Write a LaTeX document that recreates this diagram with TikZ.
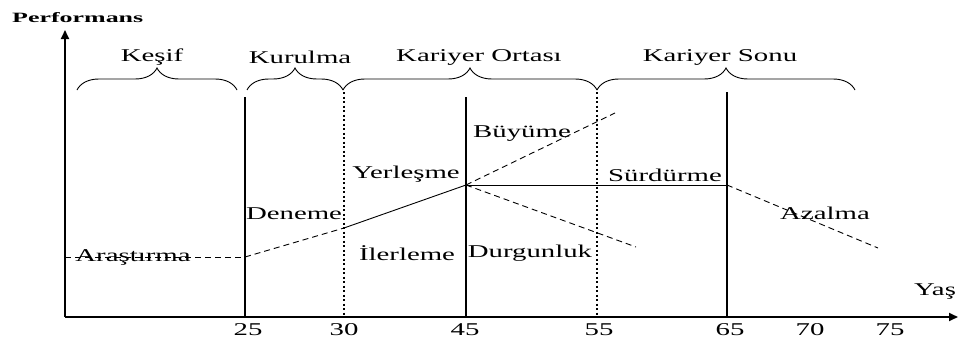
\documentclass[tikz,border=0pt]{standalone}
\usepackage{graphicx}
\usepackage{fontspec}
\setmainfont{Liberation Serif}[FakeStretch=1.6]
\newfontfamily\perffont{Liberation Serif}
\usetikzlibrary{decorations.pathreplacing,arrows.meta}
\begin{document}
\begin{tikzpicture}[x=1pt,y=-1pt,
  lbl/.style={inner sep=0pt,font=\fontsize{18}{20}\selectfont},
  axis/.style={line width=1.8pt,-{Triangle[length=9pt,width=8pt]}},
  solidv/.style={line width=1.8pt},
  dottedv/.style={line width=1.8pt,dash pattern=on 2pt off 2.5pt},
  dashln/.style={line width=0.9pt,dash pattern=on 6pt off 4pt},
  thinln/.style={line width=0.9pt},
  bracestyle/.style={line width=0.9pt,decorate,decoration={brace,amplitude=22pt,aspect=0.5}}]
\useasboundingbox (0,0) rectangle (959,340);
% axes
\coordinate (O) at (65,317);
\coordinate (Ytop) at (65,30);
\coordinate (Xend) at (958,317);
\draw[axis] (O) -- (Ytop);
\draw[axis] (O) -- (Xend);
\node[inner sep=0pt,anchor=west,font=\perffont\bfseries] (perf) at (12,18) {\resizebox{131pt}{10pt}{Performans}};
\node[lbl] (yas) at (935,292) {Yaş};
% vertical lines
\coordinate (v25t) at (245,97);  \coordinate (v25b) at (245,317);
\coordinate (v30t) at (344,92);  \coordinate (v30b) at (344,317);
\coordinate (v45t) at (466,97);  \coordinate (v45b) at (466,317);
\coordinate (v55t) at (597,92);  \coordinate (v55b) at (597,317);
\coordinate (v65t) at (727,92);  \coordinate (v65b) at (727,317);
\draw[solidv] (v25t) -- (v25b);
\draw[dottedv] (v30t) -- (v30b);
\draw[solidv] (v45t) -- (v45b);
\draw[dottedv] (v55t) -- (v55b);
\draw[solidv] (v65t) -- (v65b);
% tick labels
\node[lbl] (t25) at (248,330) {25};
\node[lbl] (t30) at (344,330) {30};
\node[lbl] (t45) at (465,330) {45};
\node[lbl] (t55) at (599,330) {55};
\node[lbl] (t65) at (730,330) {65};
\node[lbl] (t70) at (810,330) {70};
\node[lbl] (t75) at (890,330) {75};
% braces
\coordinate (b1a) at (77,90);  \coordinate (b1b) at (237,90);
\coordinate (b2a) at (247,90); \coordinate (b2b) at (343,90);
\coordinate (b3a) at (343,90); \coordinate (b3b) at (597,90);
\coordinate (b4a) at (597,90); \coordinate (b4b) at (855,90);
\draw[bracestyle] (b1a) -- (b1b);
\draw[bracestyle] (b2a) -- (b2b);
\draw[bracestyle] (b3a) -- (b3b);
\draw[bracestyle] (b4a) -- (b4b);
\node[lbl] (kesif) at (152,57) {Keşif};
\node[lbl] (kurulma) at (300,57) {Kurulma};
\node[lbl] (orta) at (479,57) {Kariyer Ortası};
\node[lbl] (sonu) at (720,57) {Kariyer Sonu};
% performance curve
\coordinate (A) at (65,257);
\coordinate (B) at (245,257);
\coordinate (C) at (344,228);
\coordinate (D) at (466,185);
\coordinate (E) at (615,113);
\coordinate (F) at (636,247);
\coordinate (G) at (727,185);
\coordinate (H) at (878,248);
\draw[dashln] (A) -- (B);
\draw[dashln] (B) -- (C);
\draw[thinln] (C) -- (D);
\draw[dashln] (D) -- (E);
\draw[dashln] (D) -- (F);
\draw[thinln] (D) -- (G);
\draw[dashln] (G) -- (H);
% stage labels
\node[lbl] (arastirma) at (133,257) {Araştırma};
\node[lbl] (deneme) at (294,214) {Deneme};
\node[lbl] (yerlesme) at (406,174) {Yerleşme};
\node[lbl] (ilerleme) at (407,253) {İlerleme};
\node[lbl] (durgunluk) at (530,253) {Durgunluk};
\node[lbl] (buyume) at (522,134) {Büyüme};
\node[lbl] (surdurme) at (665,175) {Sürdürme};
\node[lbl] (azalma) at (825,213) {Azalma};
\end{tikzpicture}
\end{document}
